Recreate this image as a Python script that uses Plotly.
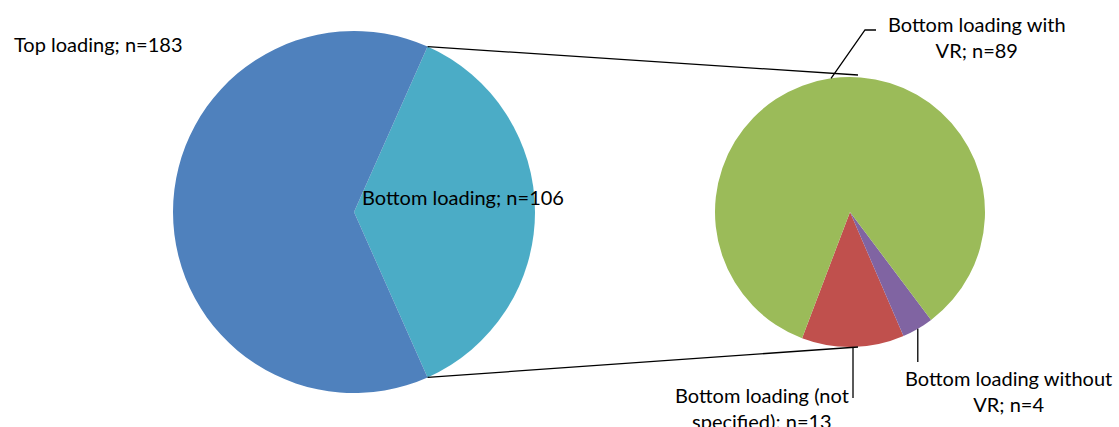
import math
import plotly.graph_objects as go

# Primary split of the loading methods
main_labels = ["Bottom loading", "Top loading"]
main_values = [106, 183]
main_colors = ["#4BACC6", "#4F81BD"]

# Breakdown of the bottom-loading share
sub_labels = ["Bottom loading (not specified)", "Bottom loading without VR", "Bottom loading with VR"]
sub_values = [13, 4, 89]
sub_colors = ["#C0504D", "#8064A2", "#9BBB59"]

W, H = 1119, 427
FONT = "Lato"
FS = 20

# Pie geometry in page pixels (centre x, centre y from top, radius)
L_CX, L_CY, L_R = 354, 212, 181
R_CX, R_CY, R_R = 850, 212, 135
SUB_START = -110.8  # math angle (deg) where the secondary pie's first slice starts


def px(x):
    return x / W


def py(y):
    return 1 - y / H


def edge(cx, cy, r, deg):
    a = math.radians(deg)
    return cx + r * math.cos(a), cy - r * math.sin(a)


main_total = sum(main_values)
half = main_values[0] / main_total * 180.0  # half-angle of the broken-out slice

sub_total = sum(sub_values)
spans = [v / sub_total * 360.0 for v in sub_values]

fig = go.Figure()
fig.add_trace(go.Pie(
    labels=main_labels, values=main_values, sort=False,
    direction="clockwise", rotation=90 - half,
    marker=dict(colors=main_colors, line=dict(width=0)),
    textinfo="none", hoverinfo="label+value", showlegend=False,
    domain=dict(x=[px(L_CX - L_R), px(L_CX + L_R)], y=[py(L_CY + L_R), py(L_CY - L_R)]),
))
# counterclockwise pies are anchored at the far end of the first slice
fig.add_trace(go.Pie(
    labels=sub_labels, values=sub_values, sort=False,
    direction="counterclockwise", rotation=90 - (SUB_START + spans[0]),
    marker=dict(colors=sub_colors, line=dict(width=0)),
    textinfo="none", hoverinfo="label+value", showlegend=False,
    domain=dict(x=[px(R_CX - R_R), px(R_CX + R_R)], y=[py(R_CY + R_R), py(R_CY - R_R)]),
))

shapes = []
line = dict(color="#000000", width=1.3)

# Connector lines between the two pies
top_pt = edge(L_CX, L_CY, L_R, half)
bot_pt = edge(L_CX, L_CY, L_R, -half)
for (x0, y0), y1 in [(top_pt, R_CY - R_R - 2), (bot_pt, R_CY + R_R)]:
    shapes.append(dict(type="line", xref="paper", yref="paper",
                       x0=px(x0), y0=py(y0), x1=px(R_CX + 8), y1=py(y1), line=line))

# Mid-angle of each secondary slice
mids = []
acc = SUB_START
for span in spans:
    mids.append(acc + span / 2)
    acc += span
mid_pts = [edge(R_CX, R_CY, R_R, m) for m in mids]

# Leader lines to the secondary labels
(nx, ny), (wx, wy), (vx, vy) = mid_pts
shapes.append(dict(type="path", xref="paper", yref="paper",
                   path=f"M {px(nx)},{py(ny)} L {px(nx)},{py(398)}", line=line))
shapes.append(dict(type="path", xref="paper", yref="paper",
                   path=f"M {px(wx)},{py(wy)} L {px(wx)},{py(362)}", line=line))
shapes.append(dict(type="path", xref="paper", yref="paper",
                   path=f"M {px(vx)},{py(vy)} L {px(865)},{py(30)} L {px(876)},{py(30)}",
                   line=line))

font = dict(family=FONT, size=FS, color="#000000")
annotations = [
    dict(text=f"{main_labels[1]}; n={main_values[1]}", x=px(12), y=py(44),
         xanchor="left", yanchor="middle"),
    dict(text=f"{main_labels[0]}; n={main_values[0]}", x=px(463), y=py(197),
         xanchor="center", yanchor="middle"),
    dict(text=f"Bottom loading with<br>VR; n={sub_values[2]}", x=px(977), y=py(37),
         xanchor="center", yanchor="middle"),
    dict(text=f"Bottom loading (not<br>specified); n={sub_values[0]}", x=px(762), y=py(408),
         xanchor="center", yanchor="middle"),
    dict(text=f"Bottom loading without<br>VR; n={sub_values[1]}", x=px(1008), y=py(391),
         xanchor="center", yanchor="middle"),
]
for a in annotations:
    a.update(xref="paper", yref="paper", showarrow=False, font=font)

fig.update_layout(
    width=W, height=H,
    margin=dict(l=0, r=0, t=0, b=0),
    paper_bgcolor="#FFFFFF", plot_bgcolor="#FFFFFF",
    shapes=shapes, annotations=annotations,
)

fig.write_html("out.html", include_plotlyjs=True, config={"displayModeBar": False})
